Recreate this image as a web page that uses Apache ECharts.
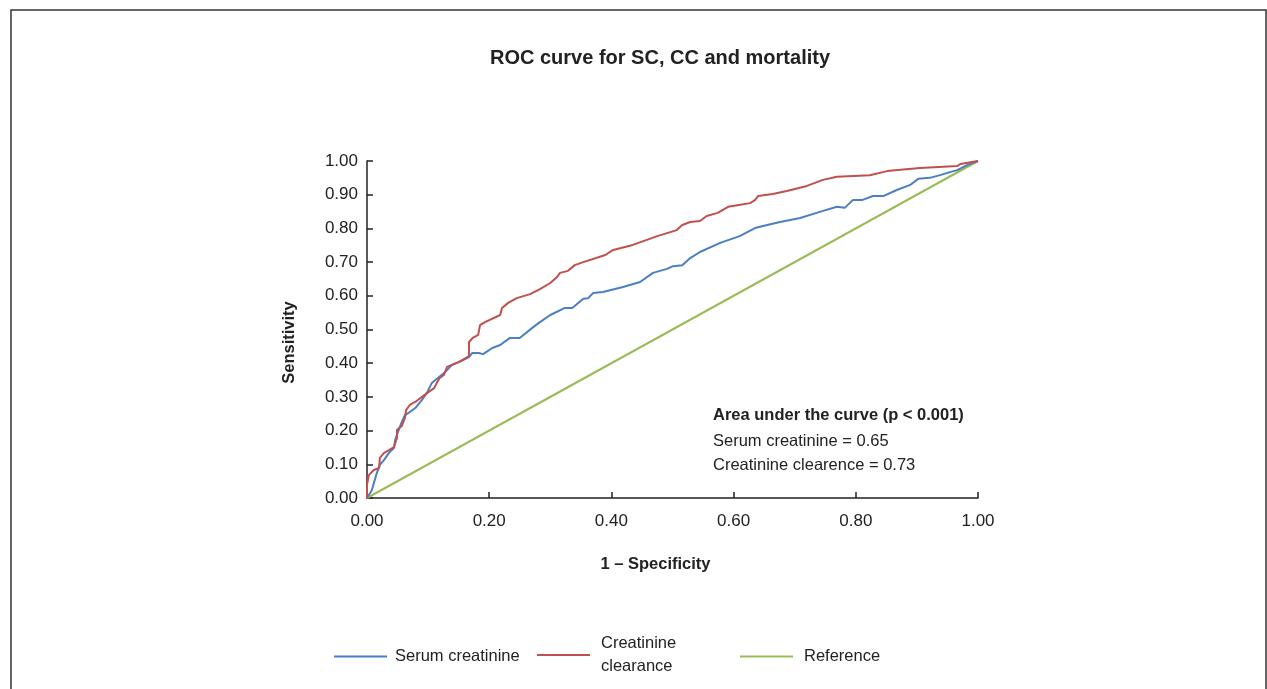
<!DOCTYPE html>
<html>
<head>
<meta charset="utf-8">
<script src="https://cdn.jsdelivr.net/npm/echarts@6/dist/echarts.min.js"></script>
<style>
  html, body { margin: 0; padding: 0; background: #fff; }
  #chart { width: 1267px; height: 689px; }
</style>
</head>
<body>
<div id="chart"></div>
<script>
// ROC points: [1 - specificity, sensitivity]
const serumCreatinine = [
  [0, 0], [0.003, 0], [0.008, 0.024], [0.016, 0.074], [0.021, 0.098], [0.028, 0.113],
  [0.036, 0.134], [0.044, 0.148], [0.046, 0.172], [0.052, 0.202], [0.057, 0.226],
  [0.062, 0.246], [0.070, 0.255], [0.079, 0.267], [0.090, 0.291], [0.098, 0.312],
  [0.106, 0.341], [0.118, 0.359], [0.128, 0.374], [0.139, 0.395], [0.151, 0.404],
  [0.167, 0.418], [0.172, 0.430], [0.183, 0.430], [0.190, 0.427], [0.205, 0.445],
  [0.218, 0.454], [0.234, 0.475], [0.250, 0.475], [0.270, 0.504], [0.283, 0.522],
  [0.300, 0.543], [0.324, 0.564], [0.336, 0.564], [0.354, 0.591], [0.362, 0.593],
  [0.370, 0.608], [0.386, 0.611], [0.419, 0.626], [0.447, 0.641], [0.468, 0.668],
  [0.491, 0.680], [0.501, 0.688], [0.516, 0.691], [0.529, 0.712], [0.545, 0.730],
  [0.578, 0.757], [0.610, 0.777], [0.635, 0.801], [0.655, 0.810], [0.676, 0.819],
  [0.709, 0.831], [0.741, 0.849], [0.769, 0.864], [0.782, 0.861], [0.795, 0.884],
  [0.810, 0.884], [0.828, 0.896], [0.845, 0.896], [0.867, 0.914], [0.889, 0.929],
  [0.902, 0.947], [0.921, 0.950], [0.938, 0.958], [0.954, 0.967], [0.966, 0.973],
  [0.982, 0.988], [1, 1]
];
const creatinineClearance = [
  [0, 0], [0, 0.039], [0.003, 0.068], [0.011, 0.083], [0.020, 0.089], [0.021, 0.119],
  [0.028, 0.134], [0.036, 0.142], [0.044, 0.151], [0.049, 0.178], [0.049, 0.202],
  [0.057, 0.214], [0.062, 0.237], [0.064, 0.261], [0.070, 0.276], [0.079, 0.285],
  [0.090, 0.300], [0.101, 0.315], [0.110, 0.326], [0.115, 0.344], [0.119, 0.356],
  [0.126, 0.365], [0.131, 0.389], [0.139, 0.395], [0.151, 0.404], [0.167, 0.421],
  [0.167, 0.463], [0.173, 0.475], [0.182, 0.484], [0.185, 0.513], [0.193, 0.522],
  [0.218, 0.543], [0.221, 0.564], [0.231, 0.579], [0.245, 0.593], [0.267, 0.605],
  [0.283, 0.620], [0.300, 0.638], [0.311, 0.656], [0.316, 0.668], [0.329, 0.674],
  [0.340, 0.691], [0.354, 0.700], [0.390, 0.721], [0.403, 0.736], [0.435, 0.751],
  [0.458, 0.766], [0.475, 0.777], [0.507, 0.795], [0.516, 0.810], [0.529, 0.819],
  [0.545, 0.822], [0.556, 0.837], [0.574, 0.846], [0.591, 0.864], [0.606, 0.869],
  [0.627, 0.875], [0.635, 0.884], [0.640, 0.896], [0.664, 0.902], [0.687, 0.911],
  [0.720, 0.926], [0.746, 0.944], [0.769, 0.953], [0.823, 0.958], [0.851, 0.970],
  [0.905, 0.979], [0.966, 0.985], [0.971, 0.991], [1, 1]
];
const referenceLine = [[0, 0], [1, 1]];

const seriesNames = ['Serum creatinine', 'Creatinine clearance', 'Reference'];
const seriesColors = ['#4a7fc1', '#c0504d', '#9bbb59'];
const aucLines = ['Area under the curve (p < 0.001)', 'Serum creatinine = 0.65', 'Creatinine clearence = 0.73'];

const FONT = 'Liberation Sans, Arial, sans-serif';
const chart = echarts.init(document.getElementById('chart'));

// 每个图例单独摆放，间距不均
const legendItem = (name, left, top, gap) => ({
  data: [name], left: left, top: top, padding: 0, icon: 'rect', itemWidth: 53, itemHeight: 2, itemGap: 0,
  textStyle: { fontFamily: FONT, fontSize: 16.5, color: '#222', lineHeight: 23, padding: [0, 0, 0, gap] },
  formatter: n => n === 'Creatinine clearance' ? 'Creatinine\nclearance' : n
});

chart.setOption({
  animation: false,
  backgroundColor: '#fff',
  title: {
    text: 'ROC curve for SC, CC and mortality', left: 655, top: 43, textAlign: 'center',
    textStyle: { fontFamily: FONT, fontSize: 20, fontWeight: 'bold', color: '#222' }
  },
  legend: [
    legendItem(seriesNames[0], 334, 645, 3),
    legendItem(seriesNames[1], 537, 632, 6),
    legendItem(seriesNames[2], 740, 645, 6)
  ],
  grid: { left: 367, right: 289, top: 161, bottom: 191 },
  xAxis: {
    type: 'value', min: 0, max: 1, interval: 0.2,
    name: '1 – Specificity', nameLocation: 'middle', nameGap: 58,
    nameTextStyle: { fontFamily: FONT, fontSize: 16.5, fontWeight: 'bold', color: '#222', padding: [0, 34, 0, 0] },
    axisLine: { lineStyle: { color: '#222', width: 1.5 } },
    axisTick: { inside: true, length: 6, lineStyle: { color: '#222', width: 1.5 } },
    axisLabel: { formatter: v => v.toFixed(2), fontFamily: FONT, fontSize: 17, color: '#222', margin: 15 },
    splitLine: { show: false }
  },
  yAxis: {
    type: 'value', min: 0, max: 1, interval: 0.1,
    name: 'Sensitivity', nameLocation: 'middle', nameGap: 69,
    nameTextStyle: { fontFamily: FONT, fontSize: 16.5, fontWeight: 'bold', color: '#222', padding: [0, 26, 0, 0] },
    axisLine: { show: true, lineStyle: { color: '#222', width: 1.5 } },
    axisTick: { show: true, inside: true, length: 6, lineStyle: { color: '#222', width: 1.5 } },
    axisLabel: { formatter: v => v.toFixed(2), fontFamily: FONT, fontSize: 17, color: '#222', margin: 9 },
    splitLine: { show: false }
  },
  series: [
    { name: seriesNames[0], type: 'line', data: serumCreatinine, showSymbol: false, z: 3,
      lineStyle: { color: seriesColors[0], width: 2 }, itemStyle: { color: seriesColors[0] } },
    { name: seriesNames[1], type: 'line', data: creatinineClearance, showSymbol: false, z: 4,
      lineStyle: { color: seriesColors[1], width: 2 }, itemStyle: { color: seriesColors[1] } },
    { name: seriesNames[2], type: 'line', data: referenceLine, showSymbol: false, z: 2,
      lineStyle: { color: seriesColors[2], width: 2 }, itemStyle: { color: seriesColors[2] } }
  ],
  graphic: [
    { type: 'rect', shape: { x: 11, y: 10, width: 1255, height: 700 }, silent: true,
      style: { fill: 'none', stroke: '#333', lineWidth: 1.5 } },
    { type: 'text', left: 713, top: 407, silent: true,
      style: { text: aucLines[0], font: 'bold 16.5px ' + FONT, fill: '#222' } },
    { type: 'text', left: 713, top: 429, silent: true,
      style: { text: aucLines[1] + '\n' + aucLines[2], font: '16.5px ' + FONT, fill: '#222', lineHeight: 24 } }
  ]
});
</script>
</body>
</html>
